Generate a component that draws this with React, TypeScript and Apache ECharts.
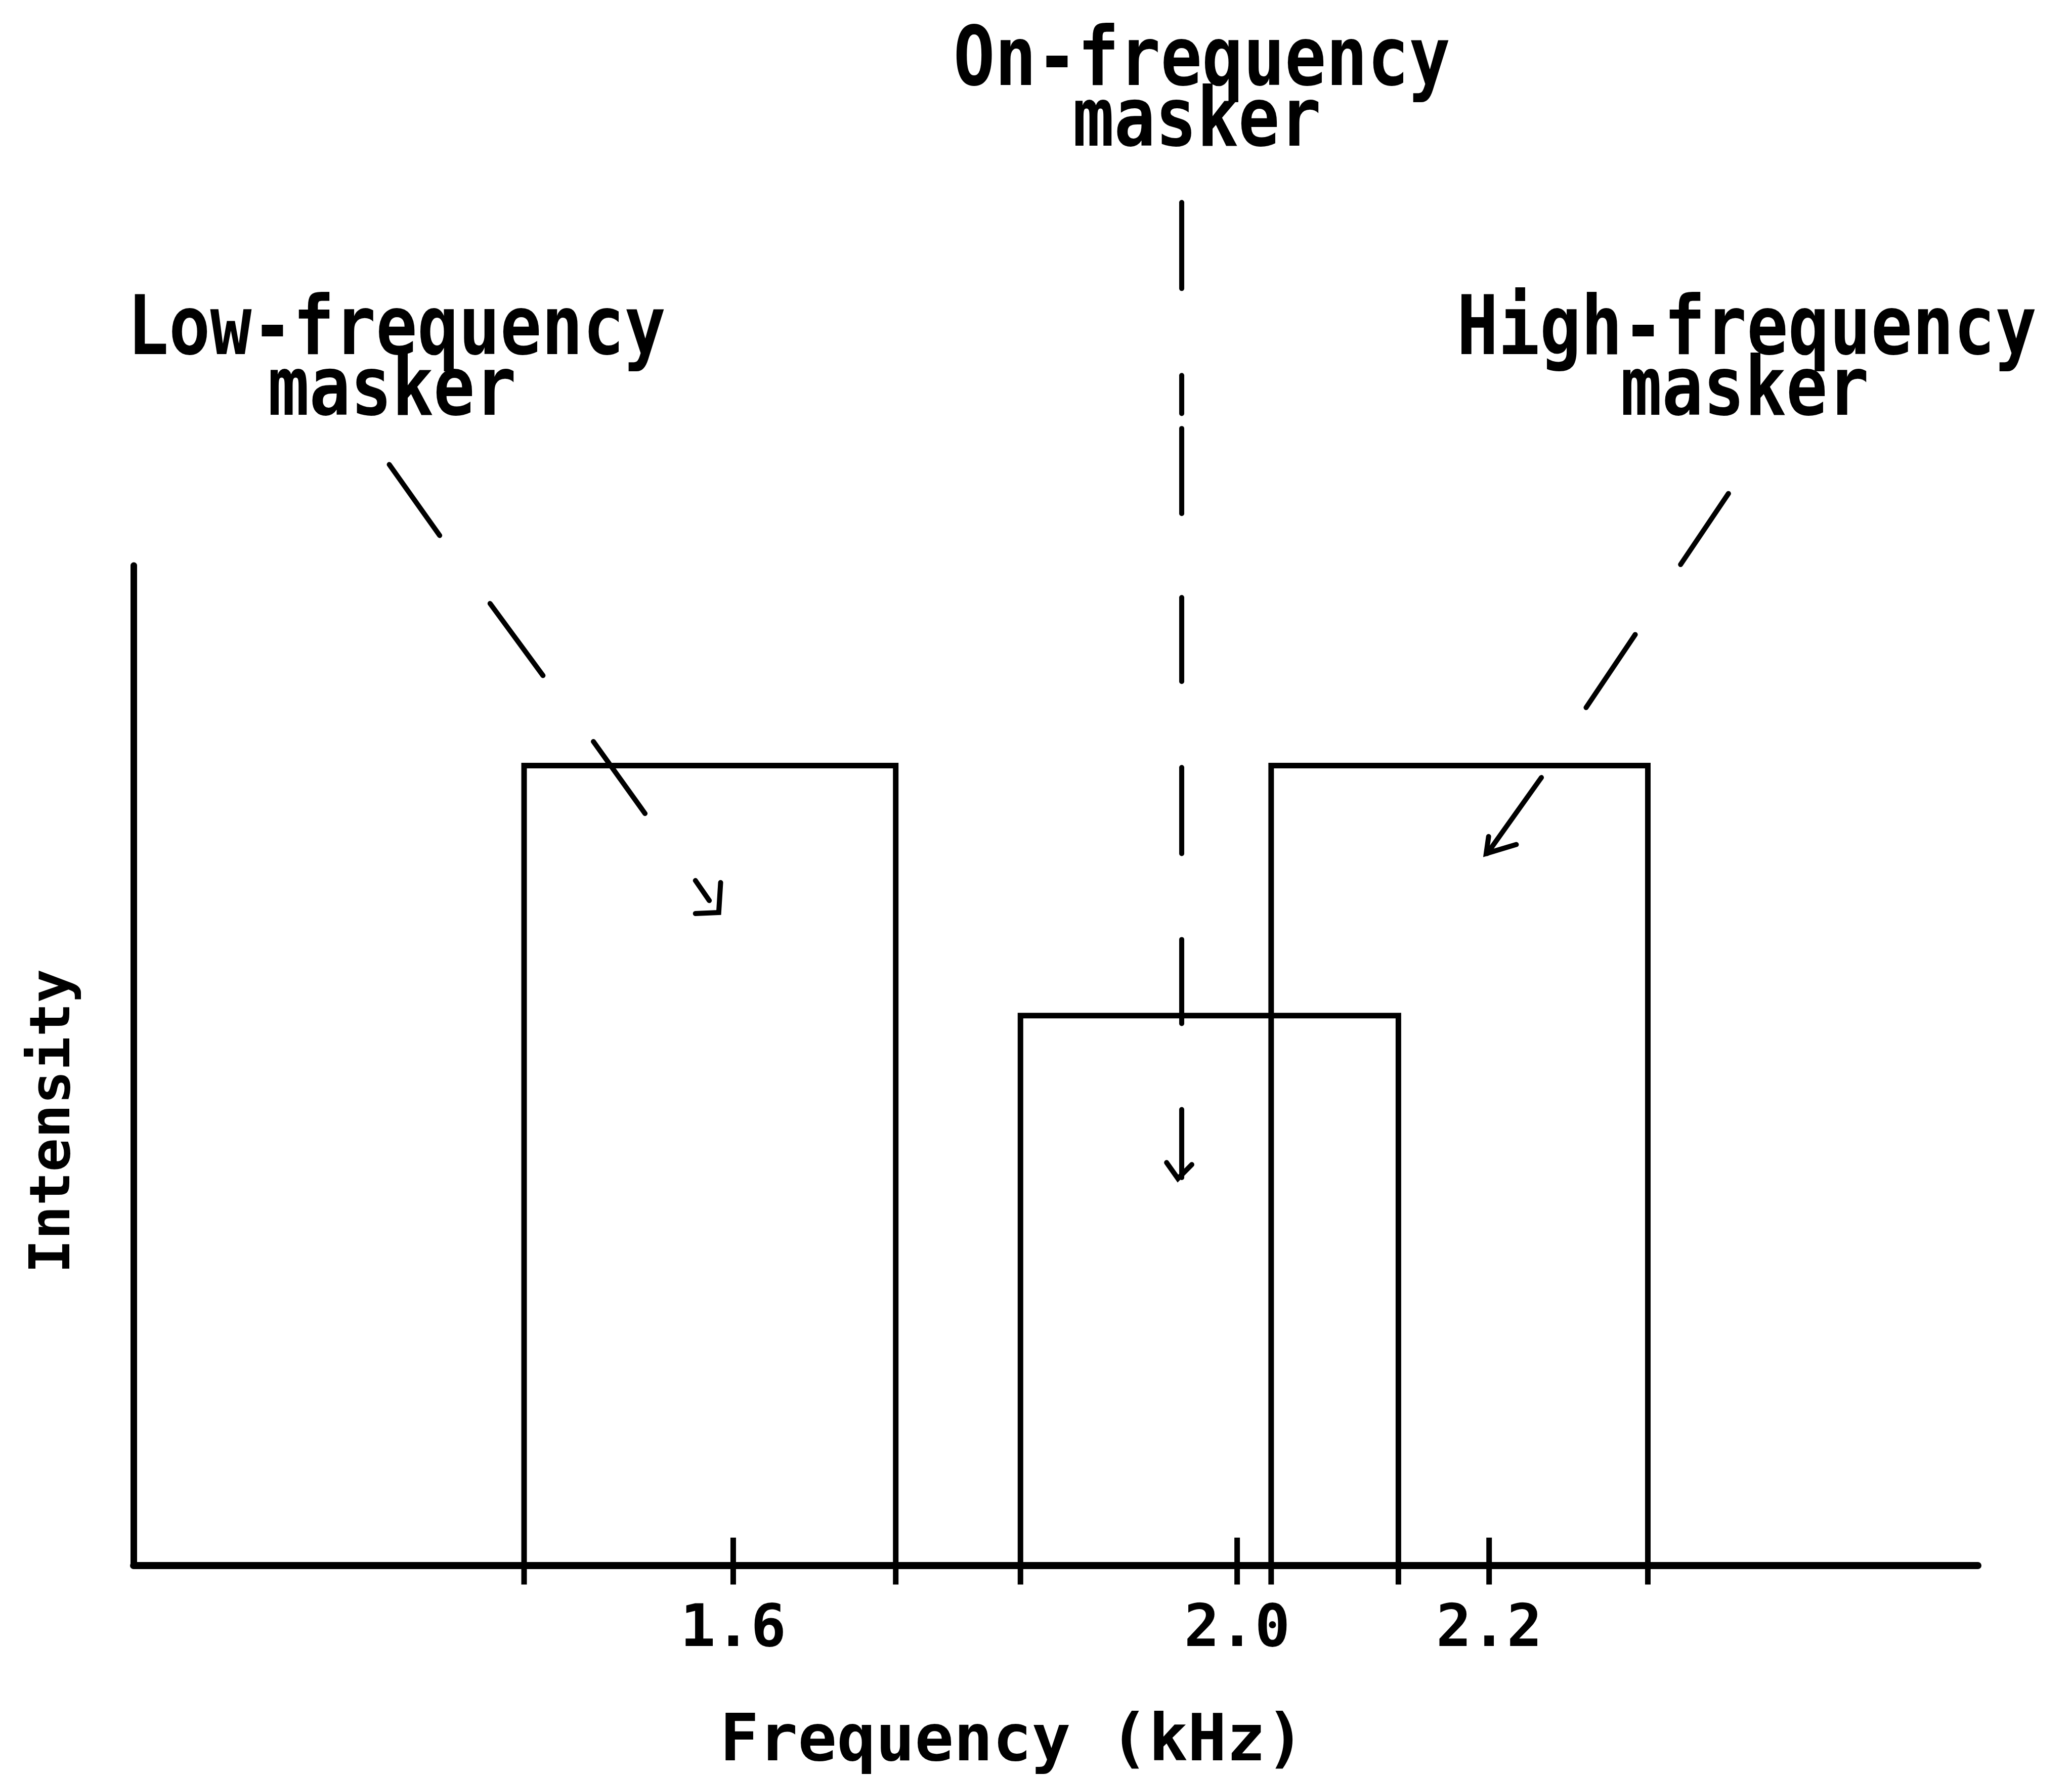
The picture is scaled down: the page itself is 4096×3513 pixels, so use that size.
import React, { useEffect, useRef } from 'react';
import * as echarts from 'echarts';

const FONT = "'DejaVu Sans Mono', 'Liberation Mono', monospace";

// Masker bands: frequency extent (kHz) and intensity (arbitrary units, top of the intensity axis = 100)
const bandNames = ['Low-frequency masker', 'On-frequency masker', 'High-frequency masker'];
const bandStart = [1.434, 1.828, 2.027];
const bandEnd = [1.729, 2.128, 2.326];
const bandLevel = [80, 55, 80];

// Axis
const tickValues = [1.6, 2.0, 2.2];
const freqRange = [1.124, 2.588];
const levelRange = [0, 100];
const tickSpan = [-1.9, 2.8];
const edgeFoot = -1.9;

// Annotation arrows (frequency, intensity)
const lowArrowDashes = [
  [[1.327, 110.1], [1.367, 103.0]],
  [[1.407, 96.2], [1.449, 89.0]],
  [[1.489, 82.4], [1.530, 75.2]],
];
const lowArrowShaft = [[1.570, 68.5], [1.581, 66.5]];
const lowArrowHead = [[1.590, 68.3], [1.5885, 65.3], [1.570, 65.2]];

const onArrowX = 1.956;
const onArrowDashes = [
  [136.3, 127.7],
  [119.0, 115.2],
  [113.7, 105.2],
  [96.8, 88.4],
  [79.8, 71.2],
  [62.6, 54.2],
];
const onArrowShaft = [45.6, 38.8];
const onArrowHead = [[1.944, 40.3], [1.953, 38.7], [1.964, 40.1]];

const highArrowDashes = [
  [[2.390, 107.2], [2.352, 100.1]],
  [[2.316, 93.1], [2.277, 85.8]],
];
const highArrowShaft = [[2.2415, 78.8], [2.1985, 71.2]];
const highArrowHead = [[2.1996, 72.9], [2.1977, 71.2], [2.2216, 72.1]];

const annotationLines = ['Low-frequency', 'masker', 'On-frequency', 'masker', 'High-frequency', 'masker'];

export default function App() {
  const ref = useRef<HTMLDivElement>(null);

  useEffect(() => {
    if (!ref.current) return;
    const chart = echarts.init(ref.current, null, { renderer: 'svg' });

    const poly = (name: string, pts: number[][], width: number, cap: string = 'round') => ({
      type: 'line',
      name,
      data: pts,
      symbol: 'none',
      clip: false,
      silent: true,
      z: 5,
      lineStyle: { color: '#000', width, cap, join: 'miter' },
    });

    const series: any[] = [];
    bandNames.forEach((n, i) => {
      series.push(
        poly(
          n,
          [
            [bandStart[i], edgeFoot],
            [bandStart[i], bandLevel[i]],
            [bandEnd[i], bandLevel[i]],
            [bandEnd[i], edgeFoot],
          ],
          11,
          'butt'
        )
      );
    });
    tickValues.forEach((t, i) => {
      series.push(poly('tick' + i, [[t, tickSpan[0]], [t, tickSpan[1]]], 11, 'butt'));
    });
    lowArrowDashes.forEach((d, i) => series.push(poly('lowDash' + i, d, 10)));
    series.push(poly('lowShaft', lowArrowShaft, 10));
    series.push(poly('lowHead', lowArrowHead, 10));
    onArrowDashes.forEach((d, i) =>
      series.push(poly('onDash' + i, [[onArrowX, d[0]], [onArrowX, d[1]]], 10))
    );
    series.push(poly('onShaft', [[onArrowX, onArrowShaft[0]], [onArrowX, onArrowShaft[1]]], 10));
    series.push(poly('onHead', onArrowHead, 10));
    highArrowDashes.forEach((d, i) => series.push(poly('highDash' + i, d, 10)));
    series.push(poly('highShaft', highArrowShaft, 10));
    series.push(poly('highHead', highArrowHead, 10));

    const textPos = [
      [784, 644],
      [775, 764],
      [2376, 112],
      [2366, 232],
      [3453, 644],
      [3449, 764],
    ];
    const graphic = annotationLines.map((t, i) => ({
      type: 'text',
      x: textPos[i][0],
      y: textPos[i][1],
      scaleY: 1.19,
      silent: true,
      style: {
        text: t,
        fill: '#000',
        fontFamily: FONT,
        fontSize: 136,
        fontWeight: 'bold',
        align: 'center',
        textAlign: 'center',
        verticalAlign: 'middle',
        textVerticalAlign: 'middle',
      },
    }));

    chart.setOption({
      animation: false,
      backgroundColor: '#ffffff',
      textStyle: { fontFamily: FONT },
      grid: { left: 264, right: 186, top: 1118, bottom: 418, containLabel: false },
      xAxis: {
        type: 'value',
        min: freqRange[0],
        max: freqRange[1],
        name: 'Frequency (kHz)',
        nameLocation: 'middle',
        nameGap: 276,
        nameTextStyle: {
          fontFamily: FONT,
          fontSize: 128,
          lineHeight: 128,
          fontWeight: 'bold',
          color: '#000',
          padding: [0, 172, 0, 0],
        },
        axisLine: { show: true, lineStyle: { color: '#000', width: 14 } },
        axisTick: { show: false },
        splitLine: { show: false },
        axisLabel: {
          customValues: tickValues,
          formatter: (v: number) => v.toFixed(1),
          margin: 60,
          fontFamily: FONT,
          fontSize: 116,
          fontWeight: 'bold',
          color: '#000',
        },
      },
      yAxis: {
        type: 'value',
        min: levelRange[0],
        max: levelRange[1],
        name: 'Intensity',
        nameLocation: 'middle',
        nameRotate: 90,
        nameGap: 110,
        nameTextStyle: {
          fontFamily: FONT,
          fontSize: 111,
          fontWeight: 'bold',
          color: '#000',
          padding: [0, 220, 0, 0],
        },
        axisLine: { show: true, lineStyle: { color: '#000', width: 13 } },
        axisTick: { show: false },
        axisLabel: { show: false },
        splitLine: { show: false },
      },
      graphic,
      series,
    });

    return () => chart.dispose();
  }, []);

  return (
    <div
      ref={ref}
      style={{ position: 'fixed', left: 0, top: 0, width: 4096, height: 3513, background: '#fff' }}
    />
  );
}
